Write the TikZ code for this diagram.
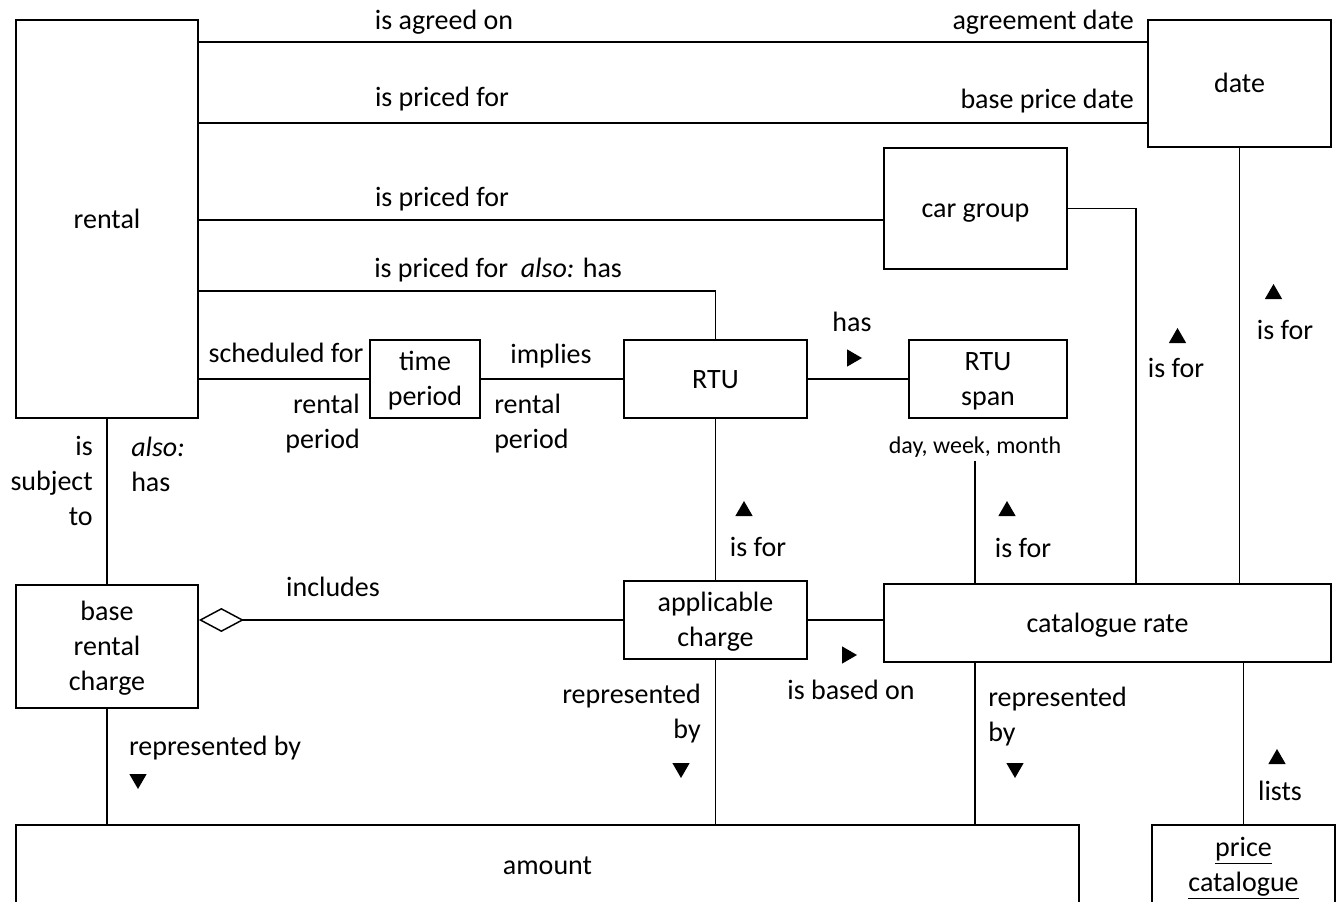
\documentclass[tikz,border=0pt]{standalone}
\usepackage{fontspec}
\setmainfont{Carlito}
\usetikzlibrary{arrows.meta,shapes.geometric}
\newcommand\lnstrut{\rule[-6.05pt]{0pt}{26.25pt}}
\newcommand\T{\lnstrut}
\begin{document}
\begin{tikzpicture}[x=0.75pt,y=-0.75pt,
  ent/.style n args={2}{draw, line width=1.3pt, inner sep=0pt, minimum width=#1*0.75pt, minimum height=#2*0.75pt, align=center, font=\fontsize{21}{26.25}\selectfont},
  lbl/.style={inner sep=0pt, align=center, font=\fontsize{21}{26.25}\selectfont},
  lblr/.style={lbl, align=right},
  lbll/.style={lbl, align=left},
  conn/.style={line width=1.1pt},
  tri/.style={regular polygon, regular polygon sides=3, fill=black, inner sep=0pt, minimum size=15pt},
  triup/.style={tri},
  tridown/.style={tri, shape border rotate=180},
  triright/.style={tri, shape border rotate=-90},
]
\useasboundingbox (0,0) rectangle (1337,902);
\clip (0,0) rectangle (1337,902);

% entities
\node[ent={182}{398}] (rental) at (107,219) {\T rental};
\node[ent={183}{127}] (date) at (1239.5,83.5) {\T date};
\node[ent={183}{121}] (cargroup) at (975.5,208.5) {\T car group};
\node[ent={110}{78}] (time) at (425,379) {\T time\\\T period};
\node[ent={183}{78}] (rtu) at (715.5,379) {\T RTU};
\node[ent={158}{78}] (span) at (988,379) {\T RTU\\\T span};
\node[ent={182}{123}] (base) at (107,646.5) {\T base\\\T rental\\\T charge};
\node[ent={183}{78}] (appl) at (715.5,620) {\T applicable\\\T charge};
\node[ent={447}{78}] (cat) at (1107.5,623) {\T catalogue rate};
\node[ent={1063}{80}] (amount) at (547.5,865) {\T amount};
\node[ent={183}{80}] (price) at (1243.5,865) {\T\underline{price}\\\T\underline{catalogue}};

\node[inner sep=2.5pt, font=\fontsize{18}{22}\selectfont] (dwm) at (975,447) {day, week, month};

% helper coordinates
\coordinate (yA) at (0,42);
\coordinate (yB) at (0,123);
\coordinate (yC) at (0,220);
\coordinate (yD) at (0,291);
\coordinate (xCG) at (1136,0);

% connectors
\draw[conn] (rental.east |- yA) -- (date.west |- yA);
\draw[conn] (rental.east |- yB) -- (date.west |- yB);
\draw[conn] (rental.east |- yC) -- (cargroup.west |- yC);
\draw[conn] (rental.east |- yD) -| (rtu.north);
\draw[conn] (rental.east |- time.west) -- (time.west);
\draw[conn] (time.east) -- (rtu.west);
\draw[conn] (rtu.east) -- (span.west);
\draw[conn] (rtu.south) -- (appl.north);
\draw[conn] (cargroup.east) -| (xCG |- cat.north);
\draw[conn] (date.south) -- (date.south |- cat.north);
\draw[conn] (dwm.south) -- (dwm.south |- cat.north);
\draw[conn] (appl.east) -- (cat.west |- appl.east);
\draw[conn, {Diamond[open,length=33.75pt,width=18pt]}-] (base.east |- appl.west) -- (appl.west);
\draw[conn] (rental.south) -- (base.north);
\draw[conn] (base.south) -- (base.south |- amount.north);
\draw[conn] (appl.south) -- (appl.south |- amount.north);
\draw[conn] (dwm.south |- cat.south) -- (dwm.south |- amount.north);
\draw[conn] (cat.south -| price.north) -- (price.north);

% direction triangles
\node[triup] (t1) at (1273.5,294) {};
\node[triup] (t2) at (1177.5,338) {};
\node[triup] (t3) at (744,511) {};
\node[triup] (t4) at (1007,511) {};
\node[triup] (t5) at (1277,759) {};
\node[tridown] (t6) at (138,779) {};
\node[tridown] (t7) at (681,768) {};
\node[tridown] (t8) at (1015,768) {};
\node[triright] (t9) at (852,358) {};
\node[triright] (t10) at (847,655) {};

% labels
\node[lbl] (l1) at (444,20) {\T is agreed on};
\node[lbl] (l2) at (442,97) {\T is priced for};
\node[lbl, anchor=east] (l3) at (1134,20) {\T agreement date};
\node[lbl, anchor=east] (l4) at (1134,99) {\T base price date};
\node[lbl] (l5) at (442,197) {\T is priced for};
\node[lbl, anchor=west] (l6) at (374,268) {\T is priced for\ \ \textit{also:} has};
\node[lbl] (l7) at (286,353) {\T scheduled for};
\node[lblr, anchor=east] (l8) at (360,422) {\T rental\\\T period};
\node[lbl] (l9) at (551,354) {\T implies};
\node[lbll, anchor=west] (l10) at (494,422) {\T rental\\\T period};
\node[lbl] (l11) at (852,322) {\T has};
\node[lbl] (l12) at (1176,368) {\T is for};
\node[lbl] (l13) at (1285,330) {\T is for};
\node[lbl] (l14) at (758,547) {\T is for};
\node[lbl] (l15) at (1023,548) {\T is for};
\node[lblr, anchor=east] (l16) at (93,481) {\T is\\\T subject\\\T to};
\node[lbll, anchor=west] (l17) at (131,465) {\T\textit{also:}\\\T has};
\node[lbl] (l18) at (333,587) {\T includes};
\node[lbl] (l19) at (215,746) {\T represented by};
\node[lblr, anchor=east] (l20) at (701,712) {\T represented\\\T by};
\node[lbl] (l21) at (851,690) {\T is based on};
\node[lbll, anchor=west] (l22) at (988,715) {\T represented\\\T by};
\node[lbl] (l23) at (1280,791) {\T lists};
\end{tikzpicture}
\end{document}
